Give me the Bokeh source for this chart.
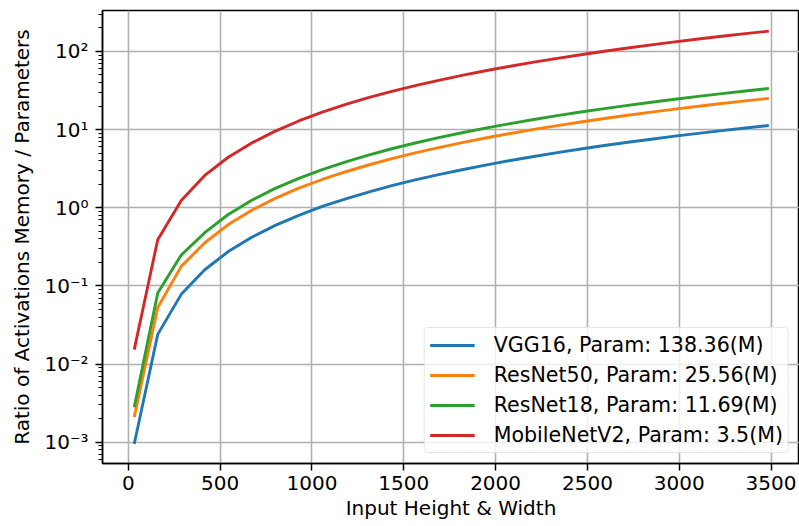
from bokeh.plotting import figure
from bokeh.models import Range1d, FixedTicker, CustomJSTickFormatter, Legend
from bokeh.embed import file_html
from bokeh.resources import INLINE

# ---- data ----
input_size = [32, 160, 288, 416, 544, 672, 800, 928, 1056, 1184, 1312, 1440, 1568, 1696,
              1824, 1952, 2080, 2208, 2336, 2464, 2592, 2720, 2848, 2976, 3104, 3232, 3360, 3488]

vgg16 = [0.00095, 0.0240, 0.0780, 0.161, 0.275, 0.420, 0.595, 0.80, 1.04, 1.30, 1.60, 1.93,
         2.29, 2.68, 3.09, 3.54, 4.02, 4.53, 5.07, 5.65, 6.25, 6.88, 7.54, 8.24, 8.96, 9.72,
         10.5, 11.3]
resnet50 = [0.0021, 0.053, 0.178, 0.357, 0.61, 0.93, 1.32, 1.78, 2.30, 2.89, 3.55, 4.28,
            5.07, 5.93, 6.86, 7.86, 8.93, 10.06, 11.26, 12.53, 13.86, 15.26, 16.73, 18.27,
            19.88, 21.55, 23.29, 25.1]
resnet18 = [0.0028, 0.081, 0.248, 0.48, 0.82, 1.25, 1.77, 2.38, 3.08, 3.87, 4.75, 5.73,
            6.79, 7.95, 9.19, 10.52, 11.95, 13.47, 15.07, 16.77, 18.56, 20.43, 22.40, 24.46,
            26.61, 28.85, 31.18, 33.6]
mobilenetv2 = [0.0153, 0.39, 1.24, 2.59, 4.43, 6.76, 9.57, 12.9, 16.7, 21.0, 25.8, 31.0,
               36.8, 43.0, 49.8, 57.0, 64.7, 72.9, 81.6, 90.8, 100.5, 110.7, 121.3, 132.5,
               144.1, 156.3, 168.9, 182.0]

series_names = ["VGG16, Param: 138.36(M)", "ResNet50, Param: 25.56(M)",
                "ResNet18, Param: 11.69(M)", "MobileNetV2, Param: 3.5(M)"]
series_values = [vgg16, resnet50, resnet18, mobilenetv2]
series_colors = ["#1f77b4", "#ff7f0e", "#2ca02c", "#d62728"]

x_ticks = [0, 500, 1000, 1500, 2000, 2500, 3000, 3500]
y_ticks = [1e-3, 1e-2, 1e-1, 1e0, 1e1, 1e2]

FONT = "DejaVu Sans"
TICK_FS = "20px"
LABEL_FS = "20px"
LEGEND_FS = "20.6px"

p = figure(width=799, height=526, y_axis_type="log",
           x_range=Range1d(-140.8, 3655), y_range=Range1d(5.35e-4, 334),
           output_backend="svg", toolbar_location=None,
           min_border_left=102, min_border_right=0, min_border_top=10, min_border_bottom=63)

p.outline_line_color = "black"
p.outline_line_width = 1.5

renderers = []
for name, vals, col in zip(series_names, series_values, series_colors):
    r = p.line(input_size, vals, line_color=col, line_width=2.9)
    renderers.append((name, [r]))

# axes
p.xaxis.ticker = FixedTicker(ticks=x_ticks)
minor = [m * 10.0 ** k for k in range(-4, 3) for m in range(2, 10)]
p.yaxis.ticker = FixedTicker(ticks=y_ticks, minor_ticks=minor)
p.yaxis.formatter = CustomJSTickFormatter(code="""
const sup = {'-':'\u207b','0':'\u2070','1':'\u00b9','2':'\u00b2','3':'\u00b3','4':'\u2074',
             '5':'\u2075','6':'\u2076','7':'\u2077','8':'\u2078','9':'\u2079'};
const e = Math.round(Math.log10(tick));
return '10' + String(e).split('').map(c => sup[c]).join('');
""")

for ax in (p.xaxis[0], p.yaxis[0]):
    ax.axis_line_width = 1.5
    ax.axis_line_color = "black"
    ax.major_tick_line_width = 1.5
    ax.major_tick_line_color = "black"
    ax.major_tick_out = 7
    ax.major_tick_in = 0
    ax.minor_tick_line_width = 1.2
    ax.minor_tick_line_color = "black"
    ax.minor_tick_out = 4
    ax.minor_tick_in = 0
    ax.major_label_text_font = FONT
    ax.major_label_text_font_size = TICK_FS
    ax.major_label_text_color = "black"
    ax.axis_label_text_font = FONT
    ax.axis_label_text_font_size = LABEL_FS
    ax.axis_label_text_font_style = "normal"
    ax.axis_label_text_color = "black"

p.xaxis.minor_tick_line_color = None
p.xaxis.major_label_standoff = 5
p.xaxis.axis_label_standoff = 3
p.yaxis.major_label_standoff = 7
p.yaxis.axis_label_standoff = 7
p.xaxis.axis_label = "Input Height & Width"
p.yaxis.axis_label = "Ratio of Activations Memory / Parameters"

p.xgrid.grid_line_color = "#b0b0b0"
p.ygrid.grid_line_color = "#b0b0b0"
p.xgrid.grid_line_width = 1.6
p.ygrid.grid_line_width = 1.6

legend = Legend(items=renderers, location="bottom_right", margin=10,
                label_text_font=FONT, label_text_font_size=LEGEND_FS, label_text_color="black",
                glyph_width=45, glyph_height=22, label_height=22, label_standoff=19,
                spacing=6, padding=5,
                border_line_color="#cccccc", border_line_width=1.5, border_radius=5,
                background_fill_alpha=0.8)
p.add_layout(legend)

open("out.html", "w").write(file_html(p, INLINE))
